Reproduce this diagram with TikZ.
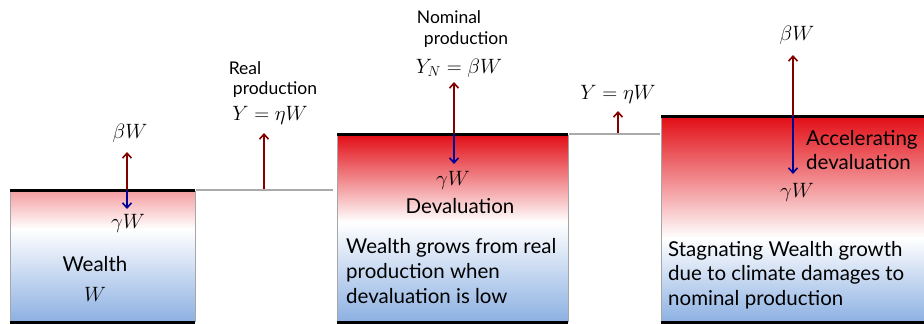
\documentclass[tikz,border=0pt]{standalone}
\usepackage{fontspec}
\setmainfont{Lato}
\usetikzlibrary{arrows.meta}
\definecolor{redtop}{RGB}{226,14,22}
\definecolor{pinktop}{RGB}{244,158,162}
\definecolor{bluebot}{RGB}{140,176,226}
\definecolor{arrred}{RGB}{130,0,0}
\definecolor{arrblue}{RGB}{0,0,150}
\definecolor{lvl}{RGB}{170,170,170}
\tikzset{
  uparr/.style={draw=arrred,line width=1.6pt,-{Straight Barb[length=5pt,width=9pt]}},
  dnarr/.style={draw=arrblue,line width=1.6pt,-{Straight Barb[length=5pt,width=9pt]}},
  edge/.style={draw=black,line width=3pt},
  sidel/.style={draw=gray!70,line width=0.6pt},
  level/.style={draw=lvl,line width=1.8pt},
  body/.style={font=\fontsize{20.5}{25}\selectfont,align=left,inner sep=0pt},
  small/.style={font=\fontsize{17.5}{22}\selectfont,inner sep=0pt},
  mathl/.style={font=\fontsize{22}{24}\selectfont,inner sep=0pt},
  mathsm/.style={font=\fontsize{21}{22}\selectfont,inner sep=0pt},
}
\begin{document}
\begin{tikzpicture}[x=1pt,y=-1pt]
\useasboundingbox (0,0) rectangle (924,324);
% ---- box 1
\shade[top color=pinktop,bottom color=white] (10,191) rectangle (195,229);
\shade[top color=white,bottom color=bluebot] (10,229) rectangle (195,322);
\draw[sidel] (10,191) -- (10,322);
\draw[sidel] (195,191) -- (195,322);
\draw[edge] (10,190) -- (195,190);
\draw[edge] (10,322.5) -- (195,322.5);
% ---- box 2
\shade[top color=redtop,bottom color=white] (337,135) rectangle (568,222);
\shade[top color=white,bottom color=bluebot] (337,222) rectangle (568,322);
\draw[sidel] (337,135) -- (337,322);
\draw[sidel] (568,135) -- (568,322);
\draw[edge] (337,134) -- (568,134);
\draw[edge] (337,322.5) -- (568,322.5);
% ---- box 3
\shade[top color=redtop,bottom color=white] (661,117) rectangle (924,238);
\shade[top color=white,bottom color=bluebot] (661,238) rectangle (924,322);
\draw[sidel] (661,117) -- (661,322);
\draw[edge] (661,116) -- (924,116);
\draw[edge] (661,322.5) -- (924,322.5);
% ---- levels
\coordinate (l1a) at (196,190);
\coordinate (l1b) at (333,190);
\coordinate (l2a) at (569,134);
\coordinate (l2b) at (660,134);
\draw[level] (l1a) -- (l1b);
\draw[level] (l2a) -- (l2b);
% ---- arrow anchor points
\coordinate (b1) at (127,190);
\coordinate (b1u) at (127,152);
\coordinate (b1d) at (127,209);
\coordinate (r1) at (264,189);
\coordinate (r1u) at (264,133);
\coordinate (b2) at (454,134);
\coordinate (b2u) at (454,82);
\coordinate (b2d) at (454,164);
\coordinate (r2) at (618,133);
\coordinate (r2u) at (618,111);
\coordinate (b3) at (793,116);
\coordinate (b3u) at (793,55);
\coordinate (b3d) at (793,174);
\draw[uparr] (b1) -- (b1u);
\draw[dnarr] (b1) -- (b1d);
\draw[uparr] (r1) -- (r1u);
\draw[uparr] (b2) -- (b2u);
\draw[dnarr] (b2) -- (b2d);
\draw[uparr] (r2) -- (r2u);
\draw[uparr] (b3) -- (b3u);
\draw[dnarr] (b3) -- (b3d);
% ---- box 1 labels
\node[mathl] (bw1) at (130,133) {$\beta W$};
\node[mathl] (gw1) at (128,223) {$\gamma W$};
\node[body] (wl) at (95,264) {Wealth};
\node[mathl] (w1) at (95,294) {$W$};
% ---- real production
\node[small] (rp1) at (245,68) {Real};
\node[small] (rp2) at (275,90) {production};
\node[mathl] (rp3) at (270,115) {$Y=\eta W$};
% ---- box 2 labels
\node[small] (np1) at (449,17) {Nominal};
\node[small] (np2) at (466,40) {production};
\node[mathl] (np3) at (459,68) {$Y_N=\beta W$};
\node[mathl] (gw2) at (453,180) {$\gamma W$};
\node[body] (dv) at (460,206) {Devaluation};
\node[body,anchor=west] (t2) at (346,271.5) {Wealth grows from real\\production when\\devaluation is low};
% ---- small real production
\node[mathsm] (rp4) at (618,94) {$Y=\eta W$};
% ---- box 3 labels
\node[mathl] (bw3) at (797,35) {$\beta W$};
\node[body,anchor=west,font=\fontsize{20.5}{24}\selectfont] (acc) at (806,150) {Accelerating\\devaluation};
\node[mathl] (gw3) at (797,192) {$\gamma W$};
\node[body,anchor=west,font=\fontsize{20.5}{24.5}\selectfont] (t3) at (668,275) {Stagnating Wealth growth\\due to climate damages to\\nominal production};
\end{tikzpicture}
\end{document}
